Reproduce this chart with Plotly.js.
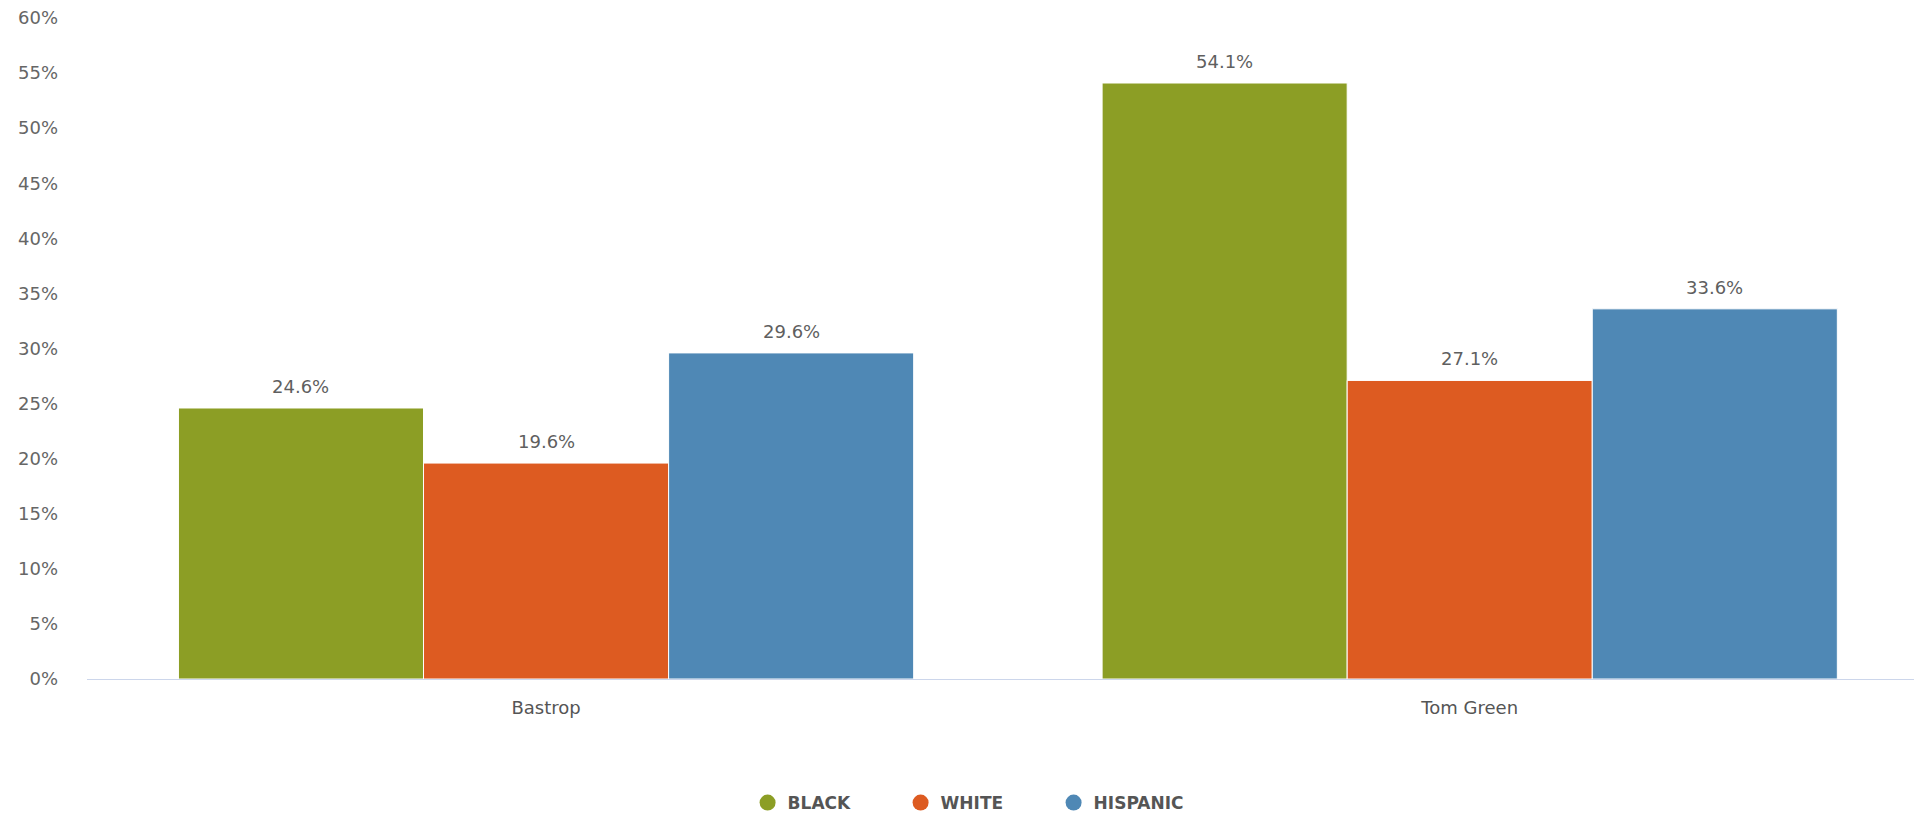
<!DOCTYPE html>
<html>
<head>
<meta charset="utf-8">
<script src="https://cdn.plot.ly/plotly-3.0.1.min.js"></script>
<style>
  html, body { margin: 0; padding: 0; background: #fff; }
  #chart { width: 1914px; height: 816px; }
</style>
</head>
<body>
<div id="chart"></div>
<script>
// ---- data ----
const categories = ["Bastrop", "Tom Green"];
const seriesNames = ["BLACK", "WHITE", "HISPANIC"];
const blackValues = [24.6, 54.1];
const whiteValues = [19.6, 27.1];
const hispanicValues = [29.6, 33.6];
const seriesColors = ["#8c9e25", "#dd5b21", "#4f88b5"];

const seriesValues = [blackValues, whiteValues, hispanicValues];
const FONT = "DejaVu Sans, sans-serif";
const bargap = 0.204;

const traces = [];
seriesValues.forEach((vals, i) => {
  traces.push({
    type: "bar",
    name: seriesNames[i],
    x: categories,
    y: vals,
    marker: { color: seriesColors[i], line: { color: "#ffffff", width: 1 } },
    showlegend: false,
    hoverinfo: "skip"
  });
});
// legend entries drawn as circles
seriesNames.forEach((n, i) => {
  traces.push({
    type: "scatter",
    mode: "markers",
    name: n,
    x: [null],
    y: [null],
    marker: { color: seriesColors[i], size: 16, symbol: "circle" },
    showlegend: true
  });
});

// value labels above bars, placed via the category axis
const w = (1 - bargap) / seriesValues.length;
const annotations = [];
seriesValues.forEach((vals, i) => {
  vals.forEach((v, j) => {
    annotations.push({
      x: j + (i - (seriesValues.length - 1) / 2) * w,
      y: v,
      xref: "x",
      yref: "y",
      text: v.toFixed(1) + "%",
      showarrow: false,
      yanchor: "bottom",
      xanchor: "center",
      yshift: 9,
      font: { family: FONT, size: 18, color: "#5f5f5f" }
    });
  });
});

const layout = {
  width: 1914,
  height: 816,
  margin: { l: 87, r: 0, t: 18, b: 137 },
  paper_bgcolor: "#ffffff",
  plot_bgcolor: "#ffffff",
  barmode: "group",
  bargap: bargap,
  bargroupgap: 0,
  showlegend: true,
  legend: {
    orientation: "h",
    xref: "container",
    yref: "container",
    x: 0.5105,
    xanchor: "center",
    y: 1 - 803 / 816,
    yanchor: "middle",
    entrywidth: 108,
    font: { family: FONT, size: 17, color: "#555555", weight: "bold" },
    bgcolor: "rgba(0,0,0,0)"
  },
  xaxis: {
    type: "category",
    range: [-0.497, 1.481],
    showgrid: false,
    zeroline: false,
    showline: true,
    linecolor: "#ccd6eb",
    linewidth: 1,
    ticks: "",
    ticklabelstandoff: 12,
    tickfont: { family: FONT, size: 18, color: "#555555" },
    fixedrange: true
  },
  yaxis: {
    range: [0, 60],
    dtick: 5,
    tick0: 0,
    ticksuffix: "%",
    showgrid: false,
    zeroline: false,
    showline: false,
    ticks: "",
    ticklabelstandoff: 28,
    tickfont: { family: FONT, size: 18, color: "#666666" },
    fixedrange: true
  },
  annotations: annotations
};

Plotly.newPlot("chart", traces, layout, { staticPlot: true, displayModeBar: false });
</script>
</body>
</html>
